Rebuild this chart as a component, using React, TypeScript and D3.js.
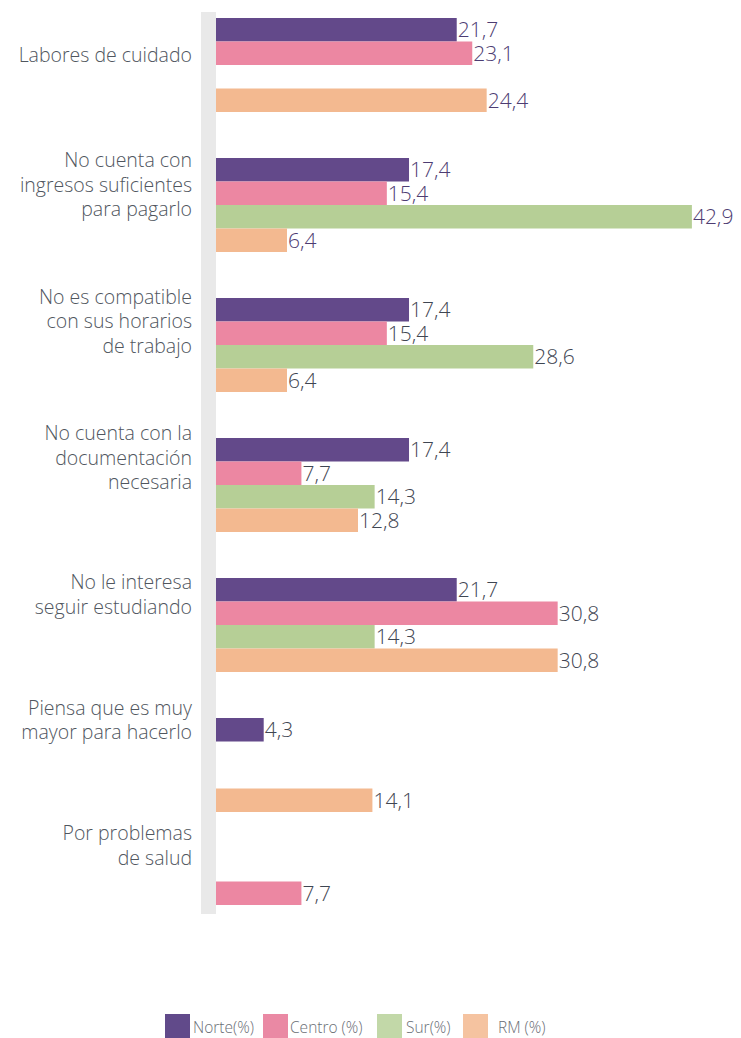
import React from "react";
import * as d3 from "d3";

const categories: string[][] = [
  ["Labores de cuidado"],
  ["No cuenta con", "ingresos suficientes", "para pagarlo"],
  ["No es compatible", "con sus horarios", "de trabajo"],
  ["No cuenta con la", "documentación", "necesaria"],
  ["No le interesa", "seguir estudiando"],
  ["Piensa que es muy", "mayor para hacerlo"],
  ["Por problemas", "de salud"],
];

const seriesNames = ["Norte(%)", "Centro (%)", "Sur(%)", "RM (%)"];
const norte: (number | null)[] = [21.7, 17.4, 17.4, 17.4, 21.7, 4.3, null];
const centro: (number | null)[] = [23.1, 15.4, 15.4, 7.7, 30.8, null, 7.7];
const sur: (number | null)[] = [null, 42.9, 28.6, 14.3, 14.3, null, null];
const rm: (number | null)[] = [24.4, 6.4, 6.4, 12.8, 30.8, 14.1, null];
const seriesValues = [norte, centro, sur, rm];

const barColors = ["#63498a", "#ec87a2", "#b6cf96", "#f3b990"];
const legendColors = ["#614a8a", "#ea89a4", "#c2d8a8", "#f5c3a0"];
const purpleInkCategories = 2; // first groups use purple value labels

const W = 741;
const H = 1038;
const FONT = "'Open Sans', Roboto, sans-serif";

export default function App() {
  const catIdx = categories.map((_, i) => String(i));
  const x = d3.scaleLinear().domain([0, 43]).range([216, 693]);
  const y = d3.scaleBand().domain(catIdx).range([18, 18 + 140 * 7]).paddingInner(0);
  const inner = d3.scaleBand().domain(seriesNames).range([0, 94]);
  const labelY = d3.scaleLinear().domain([0, 1, 4, 6]).range([55, 185, 595, 846]);
  const fmt = (v: number) => v.toFixed(1).replace(".", ",");

  const legendX = [165, 263, 377, 463];
  const legendTextX = [193, 290, 406, 498];

  const lastBottom = (y("6") as number) + (inner(seriesNames[1]) as number) + inner.bandwidth();

  return (
    <svg
      width={W}
      height={H}
      style={{ position: "absolute", left: 0, top: 0, background: "#fff" }}
      fontFamily={FONT}
    >
      <rect x={201} y={12} width={15} height={lastBottom + 9 - 12} fill="#e9e9e9" />
      {categories.map((lines, ci) => {
        const c = labelY(ci);
        const n = lines.length;
        return (
          <text key={"l" + ci} textAnchor="end" fontSize={19.5} fill="#50565e" fontWeight={300}>
            {lines.map((ln, li) => (
              <tspan key={li} x={192} y={c + (li - (n - 1) / 2) * 24.5 + 6.5}>
                {ln}
              </tspan>
            ))}
          </text>
        );
      })}
      {seriesValues.map((vals, si) =>
        vals.map((v, ci) => {
          if (v == null) return null;
          const top = (y(String(ci)) as number) + (inner(seriesNames[si]) as number);
          const h = inner.bandwidth();
          return (
            <g key={`b${si}-${ci}`}>
              <rect x={x(0)} y={top} width={x(v) - x(0)} height={h} fill={barColors[si]} />
              <text
                x={x(v) + 1}
                y={top + h / 2 + 7.5}
                fontSize={21}
                fontWeight={300}
                fill={ci < purpleInkCategories ? "#4d3c72" : "#3f4652"}
              >
                {fmt(v)}
              </text>
            </g>
          );
        })
      )}
      {seriesNames.map((s, si) => (
        <g key={"lg" + si}>
          <rect x={legendX[si]} y={1014} width={25} height={24} fill={legendColors[si]} />
          <text x={legendTextX[si]} y={1033} fontSize={15.5} fill="#6a6e75" fontWeight={300}>
            {s}
          </text>
        </g>
      ))}
    </svg>
  );
}
